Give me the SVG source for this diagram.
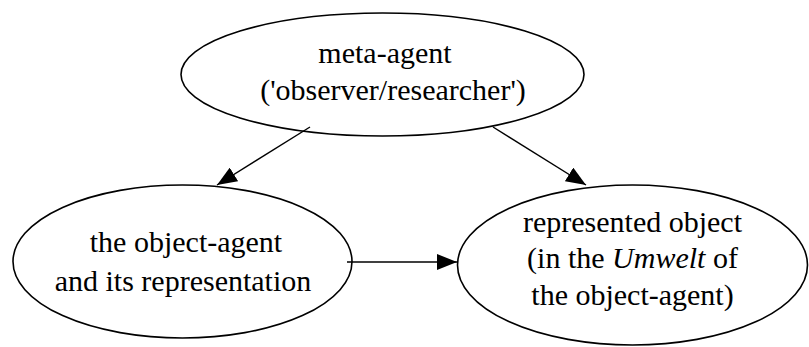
<svg xmlns="http://www.w3.org/2000/svg" width="809" height="347" viewBox="0 0 809 347">
<style>
.node ellipse{fill:#fff;stroke:#000;stroke-width:1.6}
.node text{font-family:"Liberation Serif","Times New Roman",serif;font-size:30px;fill:#000;text-anchor:middle}
.edge{stroke:#000;stroke-width:1.4;fill:none}
</style>
<defs>
<marker id="arr" markerUnits="userSpaceOnUse" markerWidth="20" markerHeight="16" refX="20" refY="8" orient="auto" viewBox="0 0 20 16">
<path d="M0,0 L20,8 L0,16 z" fill="#000"/>
</marker>
</defs>
<g id="meta-agent" class="node">
<ellipse cx="382.5" cy="74.5" rx="201.5" ry="61.5"/>
<text x="385" y="63">meta-agent</text>
<text x="393" y="100">('observer/researcher')</text>
</g>
<g id="object-agent" class="node">
<ellipse cx="182.5" cy="261.5" rx="169.5" ry="76.5"/>
<text x="186" y="252">the object-agent</text>
<text x="183" y="291">and its representation</text>
</g>
<g id="represented-object" class="node">
<ellipse cx="632.5" cy="265" rx="175" ry="80"/>
<text x="632.5" y="232">represented object</text>
<text x="632.5" y="268">(in the <tspan font-style="italic">Umwelt</tspan> of</text>
<text x="632.5" y="305">the object-agent)</text>
</g>
<g id="connectors">
<line class="edge" x1="310" y1="127" x2="217" y2="185" marker-end="url(#arr)"/>
<line class="edge" x1="493" y1="127" x2="586" y2="185" marker-end="url(#arr)"/>
<line class="edge" x1="347" y1="262" x2="457" y2="262" marker-end="url(#arr)"/>
</g>
</svg>
